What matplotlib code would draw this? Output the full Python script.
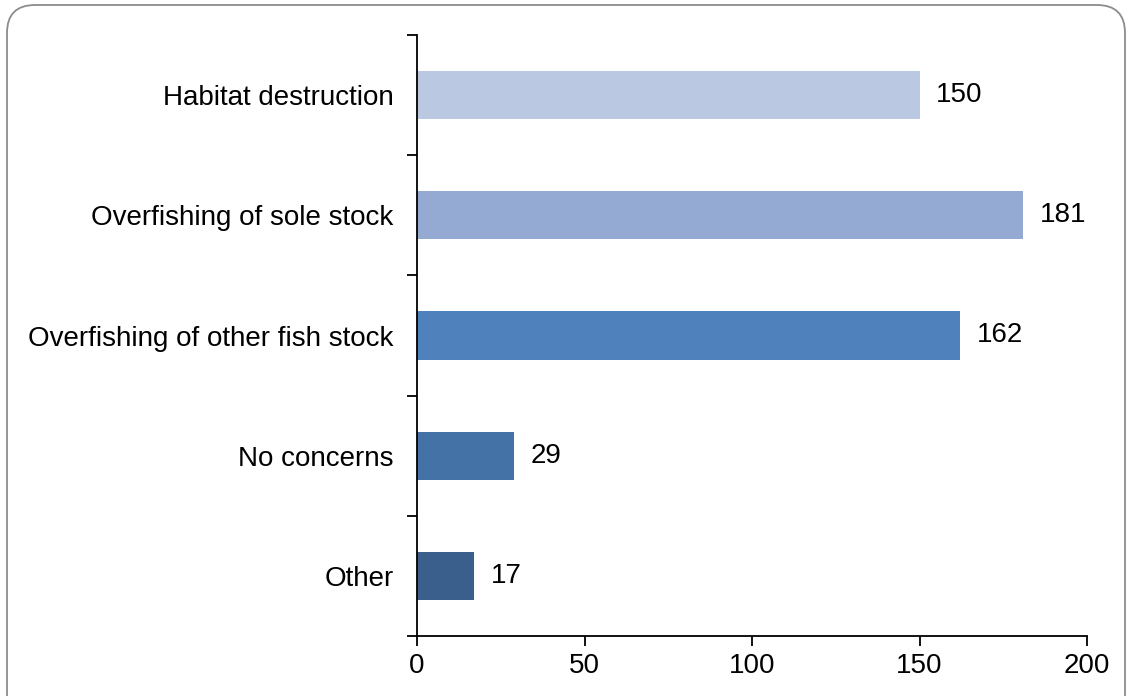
import matplotlib.pyplot as plt
from matplotlib.patches import FancyBboxPatch
from matplotlib.transforms import IdentityTransform

categories = ["Habitat destruction", "Overfishing of sole stock",
              "Overfishing of other fish stock", "No concerns", "Other"]
values = [150, 181, 162, 29, 17]
colors = ["#BAC8E2", "#94AAD2", "#4F81BD", "#4472A6", "#3A5F8D"]
x_ticks = [0, 50, 100, 150, 200]

plt.rcParams["font.family"] = ["Liberation Sans", "DejaVu Sans"]

fig = plt.figure(figsize=(11.3, 6.96), dpi=100)

# rounded frame around the chart (pixel coords, bottom runs off the image)
frame = FancyBboxPatch((7, -30), 1118, 721,
                       boxstyle="round,pad=0,rounding_size=28",
                       transform=IdentityTransform(), facecolor="white",
                       edgecolor="#8C8C8C", linewidth=1.3, zorder=-5)
fig.patches.append(frame)

ax = fig.add_axes([417 / 1130, 60 / 696, 670 / 1130, 601 / 696])
ax.set_facecolor("none")
ax.set_zorder(2)

pos = list(range(len(categories)))[::-1]
ax.barh(pos, values, height=0.4, color=colors)
for p, v in zip(pos, values):
    ax.text(v + 5, p, str(v), va="center", ha="left", fontsize=20)

ax.set_xlim(0, 200)
ax.set_ylim(-0.5, len(categories) - 0.5)
ax.set_xticks(x_ticks)
ax.set_xticklabels([str(t) for t in x_ticks], fontsize=20)
ax.set_yticks(pos)
ax.set_yticklabels(categories, fontsize=20)
ax.set_yticks([i - 0.5 for i in range(len(categories) + 1)], minor=True)
ax.tick_params(axis="y", which="major", length=0, pad=17)
ax.tick_params(axis="y", which="minor", length=7, width=1.3, direction="out")
ax.tick_params(axis="x", length=7, width=1.3, direction="out", pad=5)

ax.spines["top"].set_visible(False)
ax.spines["right"].set_visible(False)
ax.spines["left"].set_linewidth(1.3)
ax.spines["bottom"].set_linewidth(1.3)

fig.savefig("out.png", dpi=100)
